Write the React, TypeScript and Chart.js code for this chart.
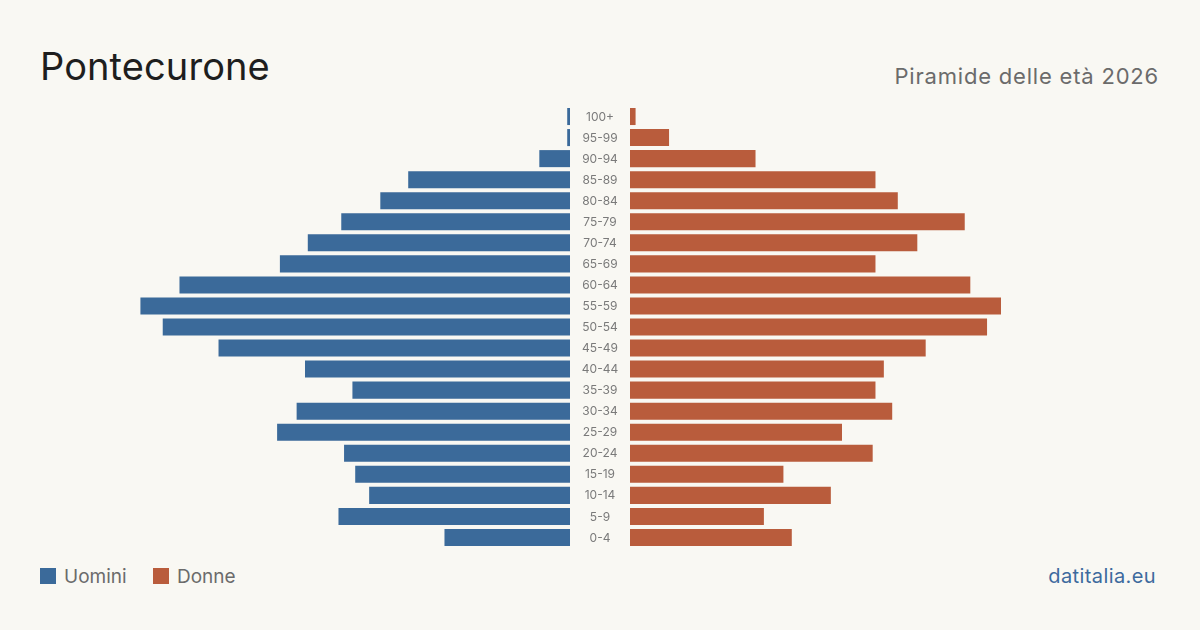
import React, { useEffect, useRef } from "react";
import { Chart, registerables } from "chart.js";

Chart.register(...registerables);

// Age groups, youngest first
const ageGroups = [
  "0-4", "5-9", "10-14", "15-19", "20-24", "25-29", "30-34", "35-39", "40-44",
  "45-49", "50-54", "55-59", "60-64", "65-69", "70-74", "75-79", "80-84",
  "85-89", "90-94", "95-99", "100+",
];

// Residents per age group
const men = [45, 83, 72, 77, 81, 105, 98, 78, 95, 126, 146, 154, 140, 104, 94, 82, 68, 58, 11, 1, 1];
const women = [58, 48, 72, 55, 87, 76, 94, 88, 91, 106, 128, 133, 122, 88, 103, 120, 96, 88, 45, 14, 2];

const axisMax = 190;

const BLUE = "#3b6a9a";
const ORANGE = "#b95c3c";
const BG = "#f9f8f3";
const FONT = "Inter, 'Noto Sans', sans-serif";

// Writes the age-group names in the gap between the two halves
const ageLabelsPlugin = {
  id: "ageLabels",
  afterDraw(chart: any) {
    const { ctx, chartArea, scales } = chart;
    const y = scales.y;
    ctx.save();
    ctx.font = `12px ${FONT}`;
    ctx.fillStyle = "#7a7a7a";
    ctx.textAlign = "center";
    ctx.textBaseline = "middle";
    ageGroups.forEach((g, i) => {
      ctx.fillText(g, chartArea.right + 30, y.getPixelForValue(i) + 0.5);
    });
    ctx.restore();
  },
};

function makeConfig(values: number[], color: string, left: boolean): any {
  return {
    type: "bar",
    data: {
      labels: ageGroups,
      datasets: [
        {
          label: left ? "Uomini" : "Donne",
          data: values,
          backgroundColor: color,
          borderWidth: 0,
          barPercentage: 0.81,
          categoryPercentage: 1,
        },
      ],
    },
    options: {
      indexAxis: "y",
      animation: false,
      responsive: false,
      maintainAspectRatio: false,
      layout: { padding: { left: 0, right: left ? 60 : 0, top: 0, bottom: 0 } },
      plugins: { legend: { display: false }, tooltip: { enabled: false } },
      scales: {
        x: { display: false, min: 0, max: axisMax, reverse: left },
        y: { display: false, reverse: true },
      },
    },
    plugins: left ? [ageLabelsPlugin] : [],
  };
}

function HalfChart({ values, color, left, style }: any) {
  const ref = useRef<HTMLCanvasElement>(null);
  useEffect(() => {
    if (!ref.current) return;
    const chart = new Chart(ref.current, makeConfig(values, color, left));
    return () => chart.destroy();
  }, []);
  return (
    <canvas
      ref={ref}
      width={style.width}
      height={style.height}
      style={{ position: "absolute", ...style }}
    />
  );
}

export default function App() {
  useEffect(() => {
    document.body.style.margin = "0";
    document.body.style.background = BG;
  }, []);

  const chartTop = 105.5;
  const chartHeight = 442;

  return (
    <div
      style={{
        position: "fixed",
        left: 0,
        top: 0,
        width: 1200,
        height: 630,
        background: BG,
        fontFamily: FONT,
        overflow: "hidden",
      }}
    >
      <div
        style={{
          position: "absolute",
          left: 40,
          top: 47,
          fontSize: 38,
          lineHeight: "38px",
          color: "#1e1e1e",
          letterSpacing: "0.1px",
        }}
      >
        Pontecurone
      </div>
      <div
        style={{
          position: "absolute",
          right: 41,
          top: 65,
          fontSize: 22,
          lineHeight: "22px",
          color: "#6b6b6b",
          letterSpacing: "0.8px",
        }}
      >
        Piramide delle età 2026
      </div>

      <HalfChart
        values={men}
        color={BLUE}
        left={true}
        style={{ left: 40, top: chartTop, width: 590, height: chartHeight }}
      />
      <HalfChart
        values={women}
        color={ORANGE}
        left={false}
        style={{ left: 630, top: chartTop, width: 530, height: chartHeight }}
      />

      <div style={{ position: "absolute", left: 40, top: 568, width: 16, height: 16, background: BLUE }} />
      <div
        style={{ position: "absolute", left: 64, top: 567, fontSize: 19, lineHeight: "19px", color: "#6b6b6b" }}
      >
        Uomini
      </div>
      <div style={{ position: "absolute", left: 153, top: 568, width: 16, height: 16, background: ORANGE }} />
      <div
        style={{ position: "absolute", left: 177, top: 567, fontSize: 19, lineHeight: "19px", color: "#6b6b6b" }}
      >
        Donne
      </div>

      <div
        style={{
          position: "absolute",
          right: 44,
          top: 566,
          fontSize: 20,
          lineHeight: "20px",
          color: "#3d6a9e",
          letterSpacing: "0.4px",
        }}
      >
        datitalia.eu
      </div>
    </div>
  );
}
